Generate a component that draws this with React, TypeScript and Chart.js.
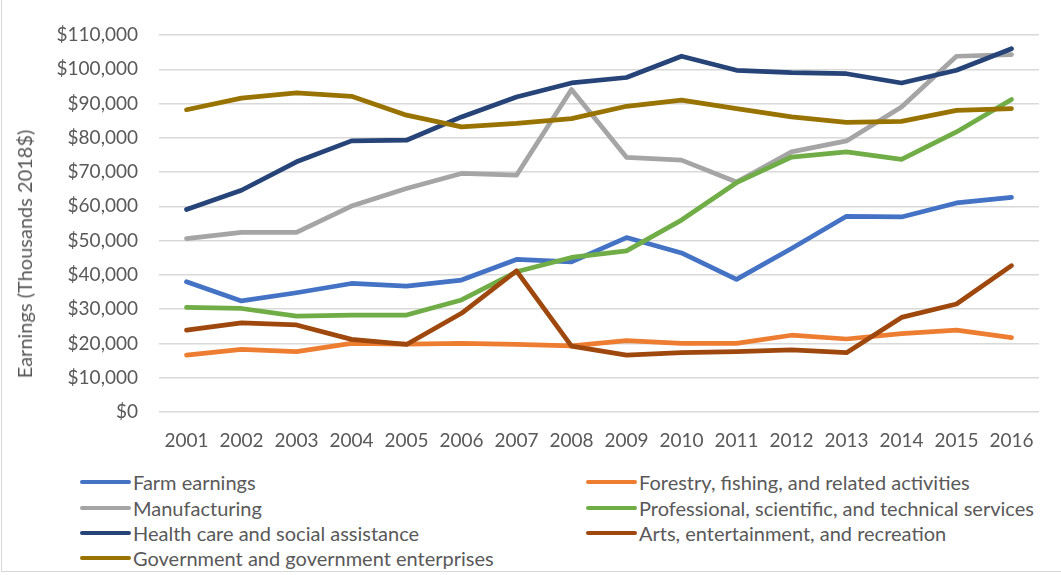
import React, { useEffect, useRef } from "react";
import { Chart, registerables } from "chart.js";

Chart.register(...registerables);

const years = ["2001", "2002", "2003", "2004", "2005", "2006", "2007", "2008", "2009", "2010", "2011", "2012", "2013", "2014", "2015", "2016"];

const farmEarnings = [38000, 32400, 34800, 37500, 36700, 38500, 44500, 43800, 50900, 46400, 38700, 47700, 57100, 56900, 61000, 62600];
const forestryFishing = [16600, 18300, 17600, 20000, 19800, 20000, 19700, 19300, 20800, 20000, 20000, 22400, 21300, 22900, 23900, 21700];
const manufacturing = [50600, 52400, 52400, 60100, 65200, 69600, 69100, 94100, 74300, 73500, 67100, 75900, 79100, 89000, 103800, 104300];
const professionalServices = [30500, 30200, 28000, 28300, 28300, 32700, 40900, 45100, 47000, 56000, 66900, 74400, 75900, 73700, 81700, 91200];
const healthCare = [59100, 64700, 73000, 79100, 79300, 86100, 91900, 96000, 97600, 103800, 99700, 99000, 98700, 96000, 99700, 106000];
const artsEntertainment = [23900, 26000, 25400, 21200, 19700, 28800, 41200, 19200, 16600, 17300, 17600, 18100, 17300, 27600, 31500, 42700];
const government = [88200, 91600, 93100, 92100, 86600, 83200, 84200, 85600, 89200, 91000, 88500, 86100, 84500, 84800, 88000, 88500];

const seriesNames = [
  "Farm earnings",
  "Forestry, fishing, and related activities",
  "Manufacturing",
  "Professional, scientific, and technical services",
  "Health care and social assistance",
  "Arts, entertainment, and recreation",
  "Government and government enterprises",
];
const seriesValues = [farmEarnings, forestryFishing, manufacturing, professionalServices, healthCare, artsEntertainment, government];
const seriesColors = ["#4472C4", "#ED7D31", "#A5A5A5", "#70AD47", "#264478", "#9E480E", "#997300"];

const yMin = 0;
const yMax = 110000;
const yStep = 10000;

const FONT = "Lato, 'Open Sans', sans-serif";
const TEXT = "#595959";

const legendOrder = [0, 1, 2, 3, 4, 5, 6];

export default function App() {
  const ref = useRef<HTMLCanvasElement>(null);

  useEffect(() => {
    if (!ref.current) return;
    const chart = new Chart(ref.current, {
      type: "line",
      data: {
        labels: years,
        datasets: seriesNames.map((name, i) => ({
          label: name,
          data: seriesValues[i],
          borderColor: seriesColors[i],
          backgroundColor: seriesColors[i],
          borderWidth: 4.75,
          pointRadius: 0,
          tension: 0,
          borderJoinStyle: "round" as const,
          borderCapStyle: "round" as const,
          order: seriesNames.length - i,
        })),
      },
      options: {
        animation: false,
        responsive: false,
        maintainAspectRatio: false,
        layout: { padding: { top: 35, right: 22, left: 0, bottom: 0 } },
        plugins: {
          legend: { display: false },
          tooltip: { enabled: false },
          title: { display: false },
        },
        scales: {
          x: {
            type: "category",
            offset: true,
            grid: { display: false, drawTicks: false },
            border: { display: false },
            ticks: {
              color: TEXT,
              font: { family: FONT, size: 19 },
              padding: 17,
              maxRotation: 0,
              autoSkip: false,
            },
            afterFit: (scale: any) => {
              scale.height = 48;
            },
          },
          y: {
            min: yMin,
            max: yMax,
            grid: { color: "#D9D9D9", lineWidth: 1.5, drawTicks: false },
            border: { display: false },
            ticks: {
              stepSize: yStep,
              color: TEXT,
              font: { family: FONT, size: 19 },
              padding: 21,
              callback: (v: any) => "$" + Number(v).toLocaleString("en-US"),
            },
            afterFit: (scale: any) => {
              scale.width = 159;
            },
          },
        },
      },
    });
    return () => chart.destroy();
  }, []);

  const rowsY = [482, 508, 533, 558];
  return (
    <div style={{ position: "absolute", left: 0, top: 0, width: 1061, height: 575, background: "#fff", overflow: "hidden", fontFamily: FONT }}>
      <div style={{ position: "absolute", left: 1, top: -4, width: 1070, height: 576, border: "1.5px solid #D9D9D9", boxSizing: "border-box" }} />
      <canvas ref={ref} width={1061} height={460} style={{ position: "absolute", left: 0, top: 0, width: 1061, height: 460 }} />
      <div
        style={{
          position: "absolute",
          left: 24,
          top: 254,
          transform: "translate(-50%, -50%) rotate(-90deg)",
          whiteSpace: "nowrap",
          color: TEXT,
          fontSize: 20,
        }}
      >
        Earnings (Thousands 2018$)
      </div>
      {legendOrder.map((idx, k) => {
        const col = k % 2;
        const row = Math.floor(k / 2);
        const lineX = col === 0 ? 80 : 586;
        return (
          <div key={idx} style={{ position: "absolute", left: lineX, top: rowsY[row] - 12, height: 24, display: "flex", alignItems: "center", whiteSpace: "nowrap" }}>
            <div style={{ width: 51, height: 4.5, borderRadius: 3, background: seriesColors[idx], marginRight: 2 }} />
            <span style={{ color: TEXT, fontSize: 20 }}>{seriesNames[idx]}</span>
          </div>
        );
      })}
    </div>
  );
}
